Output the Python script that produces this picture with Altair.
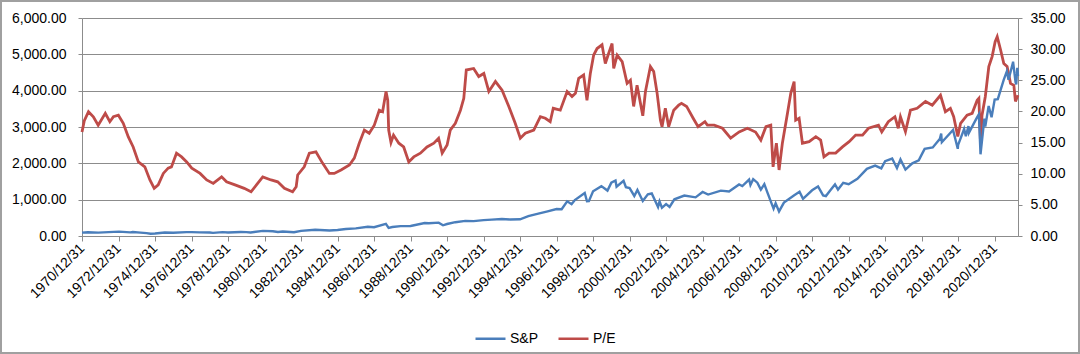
import altair as alt
import pandas as pd

FONT = "Liberation Sans"

# ---- S&P (left axis) ----
sp_dates = [
    "1970-12-31", "1971-04-28", "1971-11-23", "1972-06-15", "1973-01-11", "1973-08-22",
    "1973-10-12", "1974-03-15", "1974-07-15", "1974-10-03", "1974-12-31", "1975-07-15",
    "1975-12-31", "1976-09-21", "1976-12-31", "1977-06-15", "1977-12-31", "1978-03-06",
    "1978-09-12", "1978-12-31", "1979-09-15", "1979-12-31", "1980-03-27", "1980-11-28",
    "1981-06-15", "1981-09-25", "1981-12-31", "1982-08-12", "1982-12-31", "1983-10-10",
    "1984-07-24", "1984-12-31", "1985-06-15", "1985-12-31", "1986-08-29", "1986-12-31",
    "1987-08-25", "1987-10-19", "1987-12-31", "1988-06-15", "1988-12-31", "1989-10-09",
    "1989-12-31", "1990-07-16", "1990-10-11", "1990-12-31", "1991-06-15", "1991-12-31",
    "1992-06-15", "1992-12-31", "1993-06-15", "1993-12-31", "1994-06-15", "1994-12-31",
    "1995-06-15", "1995-12-31", "1996-06-15", "1996-12-31", "1997-04-11", "1997-07-31",
    "1997-10-27", "1997-12-31", "1998-07-17", "1998-08-31", "1998-10-08", "1998-12-31",
    "1999-06-15", "1999-10-15", "1999-12-31", "2000-03-24", "2000-04-14", "2000-09-01",
    "2000-10-18", "2000-12-31", "2001-04-04", "2001-06-05", "2001-09-21", "2001-12-31",
    "2002-03-19", "2002-07-23", "2002-08-22", "2002-10-09", "2002-12-31", "2003-03-11",
    "2003-06-15", "2003-12-31", "2004-08-12", "2004-12-31", "2005-04-20", "2005-12-31",
    "2006-06-13", "2006-12-31", "2007-03-05", "2007-07-19", "2007-08-15", "2007-10-09",
    "2007-12-31", "2008-03-10", "2008-05-19", "2008-07-15", "2008-10-10", "2008-11-20",
    "2008-12-31", "2009-03-09", "2009-06-15", "2009-12-31", "2010-04-23", "2010-07-02",
    "2010-12-31", "2011-04-29", "2011-08-08", "2011-10-03", "2011-12-31", "2012-04-02",
    "2012-06-01", "2012-09-14", "2012-12-31", "2013-06-24", "2013-12-31", "2014-06-15",
    "2014-10-15", "2014-12-31", "2015-05-21", "2015-08-25", "2015-11-03", "2016-02-11",
    "2016-06-27", "2016-11-03", "2016-12-31", "2017-03-01", "2017-08-10", "2017-10-31",
    "2017-12-31", "2018-01-26", "2018-02-08", "2018-09-20", "2018-12-24", "2018-12-31",
    "2019-04-30", "2019-06-03", "2019-07-26", "2019-08-05", "2019-12-31", "2020-02-19",
    "2020-03-23", "2020-06-08", "2020-06-26", "2020-09-02", "2020-10-30", "2020-12-31",
    "2021-03-04", "2021-06-30", "2021-09-02", "2021-10-04", "2021-12-31", "2022-01-03",
    "2022-02-23", "2022-03-08", "2022-03-29", "2022-04-12",
]
sp_values = [
    92, 104, 92, 108, 120, 101,
    111, 94, 80, 62, 68, 95,
    90, 107, 107, 100, 95, 87,
    106, 96, 110, 108, 98, 140,
    132, 112, 122, 102, 140, 172,
    150, 167, 191, 211, 253, 242,
    336, 225, 247, 271, 277, 359,
    353, 368, 295, 330, 380, 417,
    410, 436, 450, 466, 455, 459,
    545, 616, 671, 741, 737, 955,
    876, 990, 1186, 957, 959, 1229,
    1373, 1250, 1469, 1527, 1356, 1520,
    1342, 1320, 1103, 1270, 966, 1148,
    1170, 797, 950, 777, 880, 800,
    1010, 1112, 1064, 1212, 1140, 1248,
    1223, 1418, 1375, 1553, 1406, 1565,
    1468, 1276, 1426, 1214, 899, 752,
    903, 677, 919, 1115, 1217, 1022,
    1258, 1363, 1119, 1099, 1258, 1419,
    1278, 1465, 1426, 1573, 1848, 1936,
    1862, 2059, 2131, 1867, 2109, 1829,
    2000, 2085, 2239, 2396, 2438, 2575,
    2674, 2820, 2581, 2920, 2400, 2507,
    2946, 2744, 3025, 2844, 3231, 3350,
    2250, 3232, 3009, 3580, 3270, 3756,
    3768, 4298, 4537, 4300, 4766, 4797,
    4225, 4170, 4631, 4400,
]

# ---- P/E (right axis) ----
pe_dates = [
    "1970-12-31", "1971-02-15", "1971-05-10", "1971-08-15", "1971-11-20", "1972-04-10",
    "1972-07-10", "1972-09-20", "1972-12-28", "1973-04-05", "1973-07-15", "1973-10-20",
    "1974-02-01", "1974-06-10", "1974-09-20", "1974-12-15", "1975-03-05", "1975-06-15",
    "1975-09-20", "1975-11-25", "1976-03-05", "1976-06-15", "1976-09-25", "1977-01-05",
    "1977-06-20", "1977-10-30", "1978-03-10", "1978-08-25", "1978-12-01", "1979-05-20",
    "1979-11-20", "1980-04-05", "1980-08-15", "1980-11-25", "1981-05-10", "1981-09-20",
    "1982-02-01", "1982-07-15", "1982-09-25", "1982-10-25", "1983-03-05", "1983-06-15",
    "1983-10-25", "1984-03-05", "1984-07-20", "1984-10-25", "1985-03-10", "1985-08-25",
    "1985-12-01", "1986-03-10", "1986-06-20", "1986-09-25", "1987-01-05", "1987-04-15",
    "1987-06-20", "1987-08-28", "1987-10-01", "1987-10-20", "1987-12-05", "1988-01-25",
    "1988-05-10", "1988-08-15", "1988-11-25", "1989-03-05", "1989-07-15", "1989-11-25",
    "1990-04-10", "1990-07-15", "1990-09-25", "1991-01-01", "1991-03-05", "1991-06-15",
    "1991-09-25", "1991-12-01", "1992-01-20", "1992-06-15", "1992-09-25", "1993-01-05",
    "1993-04-15", "1993-08-25", "1994-01-05", "1994-05-20", "1994-09-25", "1995-01-05",
    "1995-04-15", "1995-10-01", "1996-02-10", "1996-05-20", "1996-08-25", "1996-10-25",
    "1997-03-15", "1997-07-30", "1997-11-05", "1998-01-12", "1998-03-18", "1998-06-25",
    "1998-08-31", "1998-11-06", "1999-01-12", "1999-03-21", "1999-06-28", "1999-09-02",
    "1999-11-07", "2000-01-15", "2000-02-17", "2000-04-26", "2000-08-04", "2000-11-11",
    "2001-01-16", "2001-03-22", "2001-05-29", "2001-09-21", "2001-11-13", "2002-02-20",
    "2002-04-27", "2002-07-05", "2002-09-09", "2002-10-11", "2002-12-16", "2003-02-21",
    "2003-06-02", "2003-09-09", "2003-11-05", "2004-02-15", "2004-06-25", "2004-10-01",
    "2005-02-15", "2005-04-05", "2005-08-20", "2006-02-01", "2006-07-15", "2007-01-01",
    "2007-06-15", "2007-11-25", "2008-03-10", "2008-06-20", "2008-09-25", "2008-11-10",
    "2009-01-15", "2009-03-10", "2009-05-15", "2009-08-25", "2009-10-30", "2010-01-05",
    "2010-02-05", "2010-04-15", "2010-06-20", "2010-11-01", "2011-03-15", "2011-06-20",
    "2011-08-25", "2011-12-05", "2012-04-15", "2012-08-30", "2013-01-10", "2013-05-20",
    "2013-10-05", "2014-02-01", "2014-08-20", "2014-10-25", "2015-03-05", "2015-07-15",
    "2015-09-20", "2015-11-03", "2016-02-11", "2016-05-21", "2016-10-01", "2017-03-18",
    "2017-07-31", "2018-01-12", "2018-04-20", "2018-07-29", "2018-10-03", "2018-12-24",
    "2019-02-18", "2019-06-28", "2019-10-08", "2020-01-16", "2020-02-19", "2020-03-23",
    "2020-04-22", "2020-06-27", "2020-09-05", "2020-11-10", "2021-01-10", "2021-02-20",
    "2021-04-28", "2021-07-02", "2021-09-06", "2021-11-13", "2022-01-19", "2022-02-20",
    "2022-04-12",
]
pe_values = [
    16.7, 18.5, 19.96, 19.15, 17.8, 19.7,
    18.35, 19.15, 19.4, 18.1, 15.9, 14.3,
    11.9, 11.1, 9.0, 7.65, 8.2, 10.05,
    10.9, 11.1, 13.3, 12.7, 11.9, 10.9,
    10.05, 9.0, 8.45, 9.5, 8.7, 8.2,
    7.65, 7.1, 8.45, 9.5, 9.0, 8.7,
    7.65, 7.1, 7.9, 9.8, 11.1, 13.3,
    13.5, 11.7, 10.05, 10.05, 10.6, 11.4,
    12.5, 14.9, 17.0, 16.5, 17.8, 20.2,
    19.95, 23.2, 21.8, 17.0, 15.0, 16.2,
    14.9, 14.3, 11.9, 12.7, 13.3, 14.3,
    14.9, 15.7, 13.3, 14.6, 17.0, 18.1,
    20.2, 22.1, 26.65, 26.9, 25.6, 26.1,
    23.2, 24.8, 23.4, 20.8, 18.1, 15.7,
    16.5, 17.0, 19.15, 18.9, 18.35, 20.5,
    20.2, 23.2, 22.4, 22.9, 25.3, 25.85,
    21.8, 26.1, 29.05, 30.1, 30.7, 27.7,
    29.3, 30.9, 26.9, 29.05, 28.0, 24.5,
    25.0, 20.8, 24.2, 19.3, 23.2, 27.2,
    26.4, 22.9, 18.6, 17.55, 20.5, 17.55,
    20.2, 21.0, 21.3, 20.8, 18.9, 17.55,
    18.35, 17.8, 17.8, 17.3, 15.7, 16.7,
    17.3, 16.7, 15.4, 17.55, 17.8, 11.1,
    14.9, 10.6, 14.9, 19.7, 22.9, 24.8,
    18.6, 18.9, 14.9, 15.15, 15.95, 15.4,
    12.7, 13.3, 13.3, 14.3, 15.15, 16.2,
    16.2, 17.3, 17.8, 16.7, 18.35, 19.15,
    17.3, 19.15, 16.75, 20.2, 20.5, 21.6,
    21.0, 22.6, 19.95, 20.5, 19.15, 16.0,
    18.1, 19.4, 19.7, 21.8, 22.1, 14.9,
    19.4, 22.4, 27.2, 28.8, 31.2, 32.0,
    29.9, 27.7, 27.2, 24.5, 24.2, 21.6,
    22.6,
]

series_names = ["S&P", "P/E"]
series_colors = ["#4A7EBB", "#BE4B48"]
left_ticks = [0, 1000, 2000, 3000, 4000, 5000, 6000]
right_ticks = [0, 5, 10, 15, 20, 25, 30, 35]
tick_years = list(range(1970, 2021, 2))

sp_df = pd.DataFrame({"date": sp_dates, "value": sp_values, "series": "S&P"})
pe_df = pd.DataFrame({"date": pe_dates, "value": pe_values, "series": "P/E"})

W, H = 936, 218
GRID = "#8C8C8C"

color = alt.Color(
    "series:N",
    scale=alt.Scale(domain=series_names, range=series_colors),
    legend=alt.Legend(
        title=None, orient="none", legendX=392, legendY=304, direction="horizontal",
        symbolType="stroke", symbolSize=900, symbolStrokeWidth=2.5,
        labelFontSize=14, labelFont=FONT, labelColor="#000000",
        columnPadding=14, labelOffset=3,
    ),
)

x_enc = alt.X(
    "date:T",
    scale=alt.Scale(
        type="utc",
        domain=[alt.DateTime(year=1970, month=12, date=31, utc=True),
                alt.DateTime(year=2022, month=4, date=12, utc=True)],
    ),
    axis=alt.Axis(
        values=[alt.DateTime(year=y, month=12, date=31, utc=True) for y in tick_years],
        format="%Y/%m/%d", labelAngle=315, labelAlign="right", labelBaseline="middle",
        title=None, grid=False, tickSize=5, tickColor=GRID, domainColor=GRID,
        labelFontSize=14, labelFont=FONT, labelColor="#000000", labelPadding=5,
        labelOverlap=False, labelFlush=False,
    ),
)

base_axis = dict(title=None, tickSize=4, tickColor=GRID, domainColor=GRID,
                 labelFontSize=14, labelFont=FONT, labelColor="#000000")

pe_line = alt.Chart(pe_df).mark_line(strokeWidth=2.8, interpolate="linear").encode(
    x=x_enc,
    y=alt.Y("value:Q", scale=alt.Scale(domain=[0, 35], nice=False, zero=True),
            axis=alt.Axis(orient="right", values=right_ticks, format=".2f", grid=False,
                          labelPadding=8, **base_axis)),
    color=color,
)

sp_line = alt.Chart(sp_df).mark_line(strokeWidth=2.4, interpolate="linear").encode(
    x=x_enc,
    y=alt.Y("value:Q", scale=alt.Scale(domain=[0, 6000], nice=False, zero=True),
            axis=alt.Axis(orient="left", values=left_ticks, format=",.2f", grid=True,
                          gridColor=GRID, gridWidth=1.2, labelPadding=12, **base_axis)),
    color=color,
)

border = alt.Chart(alt.Data(values=[{"k": 1}])).mark_rect(
    fillOpacity=0, stroke="#A0A0A0", strokeWidth=2
).encode(x=alt.value(-81), x2=alt.value(997), y=alt.value(-17), y2=alt.value(335))

chart = alt.layer(border, pe_line, sp_line).resolve_scale(y="independent").properties(
    width=W, height=H,
    autosize=alt.AutoSizeParams(type="none"),
    padding={"left": 82, "top": 18, "right": 62, "bottom": 118},
    background="white",
).configure_view(strokeWidth=0)

chart.save("out.html", embed_options={"renderer": "svg", "actions": False})
